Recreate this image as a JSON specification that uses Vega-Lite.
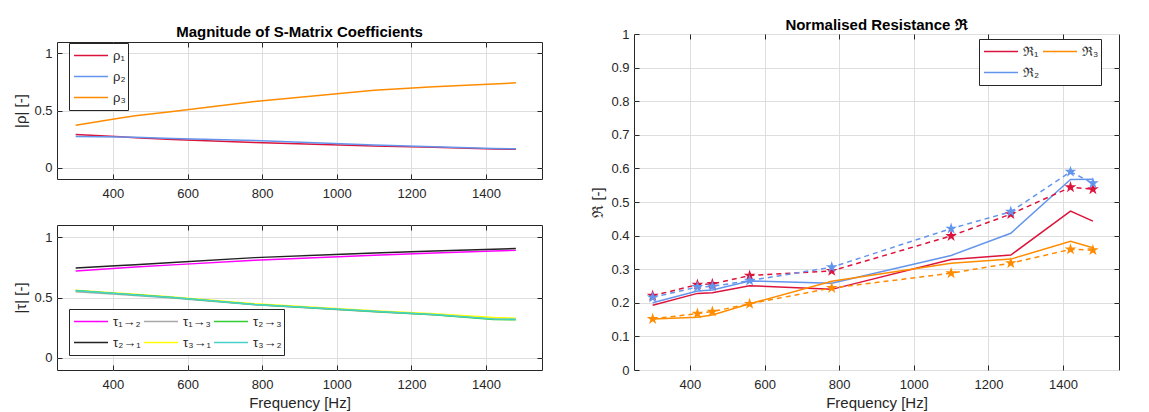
{
  "$schema": "https://vega.github.io/schema/vega-lite/v6.json",
  "background": "white",
  "padding": {"left": 13, "top": 17, "right": 0, "bottom": 0},
  "spacing": 47,
  "resolve": {"scale": {"color": "independent", "x": "independent", "y": "independent"}, "legend": {"color": "independent"}},
  "config": {
    "font": "Liberation Sans",
    "view": {"stroke": "#262626", "strokeWidth": 1},
    "axis": {
      "labelFont": "Liberation Sans", "labelFontSize": 13, "labelColor": "#262626",
      "titleFont": "Liberation Sans", "titleFontSize": 15, "titleFontWeight": "normal", "titleColor": "#262626",
      "tickColor": "#262626", "tickSize": -5, "domain": false,
      "gridColor": "#dedede", "gridWidth": 1, "labelOverlap": false, "labelFlush": false
    },
    "axisX": {"labelPadding": 13, "titlePadding": 4},
    "axisY": {"labelPadding": 10, "titlePadding": 5},
    "title": {"font": "Liberation Sans", "fontSize": 15, "fontWeight": "bold", "color": "black", "anchor": "middle"},
    "legend": {
      "title": null, "symbolType": "stroke", "symbolSize": 1156, "symbolStrokeWidth": 1.5,
      "clipHeight": 21, "padding": 2, "symbolOffset": 2, "labelOffset": 4, "rowPadding": 0,
      "labelFont": "Liberation Sans", "labelFontSize": 13, "labelColor": "#262626",
      "strokeColor": "#262626", "fillColor": "white", "orient": "none"
    }
  },
  "datasets": {
    "rho": [
      {"f": 300, "s": "ρ₁", "v": 0.29}, {"f": 420, "s": "ρ₁", "v": 0.27}, {"f": 460, "s": "ρ₁", "v": 0.262}, {"f": 560, "s": "ρ₁", "v": 0.245}, {"f": 780, "s": "ρ₁", "v": 0.22}, {"f": 1100, "s": "ρ₁", "v": 0.19}, {"f": 1260, "s": "ρ₁", "v": 0.178}, {"f": 1420, "s": "ρ₁", "v": 0.163}, {"f": 1480, "s": "ρ₁", "v": 0.16},
      {"f": 300, "s": "ρ₂", "v": 0.272}, {"f": 420, "s": "ρ₂", "v": 0.268}, {"f": 460, "s": "ρ₂", "v": 0.265}, {"f": 560, "s": "ρ₂", "v": 0.255}, {"f": 780, "s": "ρ₂", "v": 0.238}, {"f": 1100, "s": "ρ₂", "v": 0.198}, {"f": 1260, "s": "ρ₂", "v": 0.182}, {"f": 1420, "s": "ρ₂", "v": 0.168}, {"f": 1480, "s": "ρ₂", "v": 0.165},
      {"f": 300, "s": "ρ₃", "v": 0.37}, {"f": 420, "s": "ρ₃", "v": 0.435}, {"f": 460, "s": "ρ₃", "v": 0.455}, {"f": 560, "s": "ρ₃", "v": 0.492}, {"f": 780, "s": "ρ₃", "v": 0.579}, {"f": 1100, "s": "ρ₃", "v": 0.678}, {"f": 1260, "s": "ρ₃", "v": 0.707}, {"f": 1420, "s": "ρ₃", "v": 0.733}, {"f": 1480, "s": "ρ₃", "v": 0.742}
    ],
    "tau": [
      {"f": 300, "s": "τ₁→₂", "v": 0.72}, {"f": 420, "s": "τ₁→₂", "v": 0.745}, {"f": 460, "s": "τ₁→₂", "v": 0.752}, {"f": 560, "s": "τ₁→₂", "v": 0.77}, {"f": 780, "s": "τ₁→₂", "v": 0.808}, {"f": 1100, "s": "τ₁→₂", "v": 0.85}, {"f": 1260, "s": "τ₁→₂", "v": 0.868}, {"f": 1420, "s": "τ₁→₂", "v": 0.885}, {"f": 1480, "s": "τ₁→₂", "v": 0.89},
      {"f": 300, "s": "τ₂→₁", "v": 0.745}, {"f": 420, "s": "τ₂→₁", "v": 0.765}, {"f": 460, "s": "τ₂→₁", "v": 0.772}, {"f": 560, "s": "τ₂→₁", "v": 0.79}, {"f": 780, "s": "τ₂→₁", "v": 0.83}, {"f": 1100, "s": "τ₂→₁", "v": 0.868}, {"f": 1260, "s": "τ₂→₁", "v": 0.885}, {"f": 1420, "s": "τ₂→₁", "v": 0.9}, {"f": 1480, "s": "τ₂→₁", "v": 0.905},
      {"f": 300, "s": "τ₁→₃", "v": 0.548}, {"f": 420, "s": "τ₁→₃", "v": 0.525}, {"f": 460, "s": "τ₁→₃", "v": 0.517}, {"f": 560, "s": "τ₁→₃", "v": 0.496}, {"f": 780, "s": "τ₁→₃", "v": 0.44}, {"f": 1100, "s": "τ₁→₃", "v": 0.382}, {"f": 1260, "s": "τ₁→₃", "v": 0.357}, {"f": 1420, "s": "τ₁→₃", "v": 0.325}, {"f": 1480, "s": "τ₁→₃", "v": 0.32},
      {"f": 300, "s": "τ₃→₁", "v": 0.56}, {"f": 420, "s": "τ₃→₁", "v": 0.535}, {"f": 460, "s": "τ₃→₁", "v": 0.527}, {"f": 560, "s": "τ₃→₁", "v": 0.505}, {"f": 780, "s": "τ₃→₁", "v": 0.448}, {"f": 1100, "s": "τ₃→₁", "v": 0.39}, {"f": 1260, "s": "τ₃→₁", "v": 0.365}, {"f": 1420, "s": "τ₃→₁", "v": 0.335}, {"f": 1480, "s": "τ₃→₁", "v": 0.328},
      {"f": 300, "s": "τ₂→₃", "v": 0.557}, {"f": 420, "s": "τ₂→₃", "v": 0.53}, {"f": 460, "s": "τ₂→₃", "v": 0.522}, {"f": 560, "s": "τ₂→₃", "v": 0.5}, {"f": 780, "s": "τ₂→₃", "v": 0.443}, {"f": 1100, "s": "τ₂→₃", "v": 0.385}, {"f": 1260, "s": "τ₂→₃", "v": 0.358}, {"f": 1420, "s": "τ₂→₃", "v": 0.318}, {"f": 1480, "s": "τ₂→₃", "v": 0.316},
      {"f": 300, "s": "τ₃→₂", "v": 0.556}, {"f": 420, "s": "τ₃→₂", "v": 0.531}, {"f": 460, "s": "τ₃→₂", "v": 0.521}, {"f": 560, "s": "τ₃→₂", "v": 0.5}, {"f": 780, "s": "τ₃→₂", "v": 0.443}, {"f": 1100, "s": "τ₃→₂", "v": 0.386}, {"f": 1260, "s": "τ₃→₂", "v": 0.36}, {"f": 1420, "s": "τ₃→₂", "v": 0.323}, {"f": 1480, "s": "τ₃→₂", "v": 0.32}
    ],
    "resModel": [
      {"f": 300, "s": "ℜ₁", "v": 0.193}, {"f": 420, "s": "ℜ₁", "v": 0.228}, {"f": 460, "s": "ℜ₁", "v": 0.23}, {"f": 560, "s": "ℜ₁", "v": 0.251}, {"f": 780, "s": "ℜ₁", "v": 0.24}, {"f": 1100, "s": "ℜ₁", "v": 0.329}, {"f": 1260, "s": "ℜ₁", "v": 0.342}, {"f": 1420, "s": "ℜ₁", "v": 0.473}, {"f": 1480, "s": "ℜ₁", "v": 0.443},
      {"f": 300, "s": "ℜ₂", "v": 0.2}, {"f": 420, "s": "ℜ₂", "v": 0.235}, {"f": 460, "s": "ℜ₂", "v": 0.238}, {"f": 560, "s": "ℜ₂", "v": 0.265}, {"f": 780, "s": "ℜ₂", "v": 0.258}, {"f": 1100, "s": "ℜ₂", "v": 0.341}, {"f": 1260, "s": "ℜ₂", "v": 0.407}, {"f": 1420, "s": "ℜ₂", "v": 0.567}, {"f": 1480, "s": "ℜ₂", "v": 0.568},
      {"f": 300, "s": "ℜ₃", "v": 0.152}, {"f": 420, "s": "ℜ₃", "v": 0.157}, {"f": 460, "s": "ℜ₃", "v": 0.164}, {"f": 560, "s": "ℜ₃", "v": 0.197}, {"f": 780, "s": "ℜ₃", "v": 0.264}, {"f": 1100, "s": "ℜ₃", "v": 0.318}, {"f": 1260, "s": "ℜ₃", "v": 0.33}, {"f": 1420, "s": "ℜ₃", "v": 0.383}, {"f": 1480, "s": "ℜ₃", "v": 0.364}
    ],
    "resMeas": [
      {"f": 300, "s": "ℜ₁", "v": 0.221}, {"f": 420, "s": "ℜ₁", "v": 0.254}, {"f": 460, "s": "ℜ₁", "v": 0.256}, {"f": 560, "s": "ℜ₁", "v": 0.281}, {"f": 780, "s": "ℜ₁", "v": 0.295}, {"f": 1100, "s": "ℜ₁", "v": 0.399}, {"f": 1260, "s": "ℜ₁", "v": 0.464}, {"f": 1420, "s": "ℜ₁", "v": 0.544}, {"f": 1480, "s": "ℜ₁", "v": 0.538},
      {"f": 300, "s": "ℜ₂", "v": 0.216}, {"f": 420, "s": "ℜ₂", "v": 0.247}, {"f": 460, "s": "ℜ₂", "v": 0.249}, {"f": 560, "s": "ℜ₂", "v": 0.266}, {"f": 780, "s": "ℜ₂", "v": 0.306}, {"f": 1100, "s": "ℜ₂", "v": 0.421}, {"f": 1260, "s": "ℜ₂", "v": 0.471}, {"f": 1420, "s": "ℜ₂", "v": 0.59}, {"f": 1480, "s": "ℜ₂", "v": 0.556},
      {"f": 300, "s": "ℜ₃", "v": 0.152}, {"f": 420, "s": "ℜ₃", "v": 0.168}, {"f": 460, "s": "ℜ₃", "v": 0.174}, {"f": 560, "s": "ℜ₃", "v": 0.197}, {"f": 780, "s": "ℜ₃", "v": 0.244}, {"f": 1100, "s": "ℜ₃", "v": 0.288}, {"f": 1260, "s": "ℜ₃", "v": 0.318}, {"f": 1420, "s": "ℜ₃", "v": 0.359}, {"f": 1480, "s": "ℜ₃", "v": 0.357}
    ]
  },
  "hconcat": [
    {
      "bounds": "flush",
      "spacing": 7,
      "resolve": {"scale": {"color": "independent", "x": "independent", "y": "independent"}, "legend": {"color": "independent"}},
      "vconcat": [
        {
          "width": 485, "height": 1,
          "data": {"values": []},
          "mark": {"type": "point", "opacity": 0},
          "encoding": {},
          "view": {"stroke": null}
        },
        {
          "bounds": "flush",
          "spacing": 46,
          "resolve": {"scale": {"color": "independent", "x": "independent", "y": "independent"}, "legend": {"color": "independent"}},
          "vconcat": [
            {
              "width": 485, "height": 137,
              "title": {"text": "Magnitude of S-Matrix Coefficients", "offset": 2},
              "data": {"name": "rho"},
              "resolve": {"axis": {"x": "independent", "y": "independent"}},
              "layer": [
                {
                  "mark": {"type": "line", "strokeWidth": 1.5},
                  "encoding": {
                    "x": {"field": "f", "type": "quantitative", "scale": {"domain": [250, 1550], "nice": false, "zero": false},
                          "axis": {"orient": "bottom", "values": [400, 600, 800, 1000, 1200, 1400], "format": "d", "title": null, "grid": true}},
                    "y": {"field": "v", "type": "quantitative", "scale": {"domain": [-0.1, 1.1], "nice": false, "zero": false},
                          "axis": {"orient": "left", "values": [0, 0.5, 1], "format": "~g", "title": "|ρ| [-]", "grid": true}},
                    "color": {"field": "s", "type": "nominal",
                              "scale": {"domain": ["ρ₁", "ρ₂", "ρ₃"], "range": ["#DC143C", "#6495ED", "#FF8C00"]},
                              "legend": {"orient": "none", "legendX": 12, "legendY": 1}}
                  }
                },
                {
                  "mark": {"type": "point", "opacity": 0},
                  "encoding": {
                    "x": {"field": "f", "type": "quantitative",
                          "axis": {"orient": "top", "values": [400, 600, 800, 1000, 1200, 1400], "labels": false, "grid": false, "title": null}},
                    "y": {"field": "v", "type": "quantitative",
                          "axis": {"orient": "right", "values": [0, 0.5, 1], "labels": false, "grid": false, "title": null}}
                  }
                }
              ]
            },
            {
              "width": 485, "height": 145,
              "data": {"name": "tau"},
              "resolve": {"axis": {"x": "independent", "y": "independent"}},
              "layer": [
                {
                  "mark": {"type": "line", "strokeWidth": 1.5},
                  "encoding": {
                    "x": {"field": "f", "type": "quantitative", "scale": {"domain": [250, 1550], "nice": false, "zero": false},
                          "axis": {"orient": "bottom", "values": [400, 600, 800, 1000, 1200, 1400], "format": "d", "title": "Frequency [Hz]", "grid": true}},
                    "y": {"field": "v", "type": "quantitative", "scale": {"domain": [-0.1, 1.1], "nice": false, "zero": false},
                          "axis": {"orient": "left", "values": [0, 0.5, 1], "format": "~g", "title": "|τ| [-]", "grid": true}},
                    "color": {"field": "s", "type": "nominal",
                              "scale": {"domain": ["τ₁→₂", "τ₂→₁", "τ₁→₃", "τ₃→₁", "τ₂→₃", "τ₃→₂"],
                                        "range": ["#FF00FF", "#222222", "#A9A9A9", "#FFFF00", "#32CD32", "#48D1CC"]},
                              "legend": {"orient": "none", "legendX": 12, "legendY": 84, "columns": 3, "columnPadding": 0}}
                  }
                },
                {
                  "mark": {"type": "point", "opacity": 0},
                  "encoding": {
                    "x": {"field": "f", "type": "quantitative",
                          "axis": {"orient": "top", "values": [400, 600, 800, 1000, 1200, 1400], "labels": false, "grid": false, "title": null}},
                    "y": {"field": "v", "type": "quantitative",
                          "axis": {"orient": "right", "values": [0, 0.5, 1], "labels": false, "grid": false, "title": null}}
                  }
                }
              ]
            }
          ]
        }
      ]
    },
    {
      "width": 485, "height": 336,
      "title": {"text": "Normalised Resistance ℜ", "offset": -5},
      "resolve": {"axis": {"x": "independent", "y": "independent"}, "scale": {"color": "independent"}},
      "layer": [
        {
          "data": {"name": "resModel"},
          "mark": {"type": "line", "strokeWidth": 1.5},
          "encoding": {
            "x": {"field": "f", "type": "quantitative", "scale": {"domain": [250, 1550], "nice": false, "zero": false},
                  "axis": {"orient": "bottom", "values": [400, 600, 800, 1000, 1200, 1400], "format": "d", "title": "Frequency [Hz]", "grid": true}},
            "y": {"field": "v", "type": "quantitative", "scale": {"domain": [0, 1], "nice": false, "zero": false},
                  "axis": {"orient": "left", "values": [0, 0.1, 0.2, 0.3, 0.4, 0.5, 0.6, 0.7, 0.8, 0.9, 1], "format": "~g", "title": "ℜ [-]", "grid": true}},
            "color": {"field": "s", "type": "nominal",
                      "scale": {"domain": ["ℜ₁", "ℜ₂", "ℜ₃"], "range": ["#DC143C", "#6495ED", "#FF8C00"]},
                      "legend": {"orient": "none", "legendX": 345, "legendY": 5, "columns": 2, "columnPadding": -3}}
          }
        },
        {
          "data": {"name": "resMeas"},
          "mark": {"type": "line", "strokeWidth": 1.5, "strokeDash": [5, 4]},
          "encoding": {
            "x": {"field": "f", "type": "quantitative", "axis": null},
            "y": {"field": "v", "type": "quantitative", "axis": null},
            "color": {"field": "s", "type": "nominal",
                      "scale": {"domain": ["ℜ₁", "ℜ₂", "ℜ₃"], "range": ["#DC143C", "#6495ED", "#FF8C00"]},
                      "legend": null}
          }
        },
        {
          "data": {"name": "resMeas"},
          "mark": {"type": "point", "filled": true, "opacity": 1, "size": 150,
                   "shape": "M0,-1L0.2245,-0.309L0.951,-0.309L0.3633,0.118L0.5878,0.809L0,0.382L-0.5878,0.809L-0.3633,0.118L-0.951,-0.309L-0.2245,-0.309Z"},
          "encoding": {
            "x": {"field": "f", "type": "quantitative", "axis": null},
            "y": {"field": "v", "type": "quantitative", "axis": null},
            "color": {"field": "s", "type": "nominal",
                      "scale": {"domain": ["ℜ₁", "ℜ₂", "ℜ₃"], "range": ["#DC143C", "#6495ED", "#FF8C00"]},
                      "legend": null}
          }
        },
        {
          "data": {"name": "resMeas"},
          "mark": {"type": "point", "opacity": 0},
          "encoding": {
            "x": {"field": "f", "type": "quantitative",
                  "axis": {"orient": "top", "values": [400, 600, 800, 1000, 1200, 1400], "labels": false, "grid": false, "title": null}},
            "y": {"field": "v", "type": "quantitative",
                  "axis": {"orient": "right", "values": [0.1, 0.2, 0.3, 0.4, 0.5, 0.6, 0.7, 0.8, 0.9], "labels": false, "grid": false, "title": null}}
          }
        }
      ]
    }
  ]
}
